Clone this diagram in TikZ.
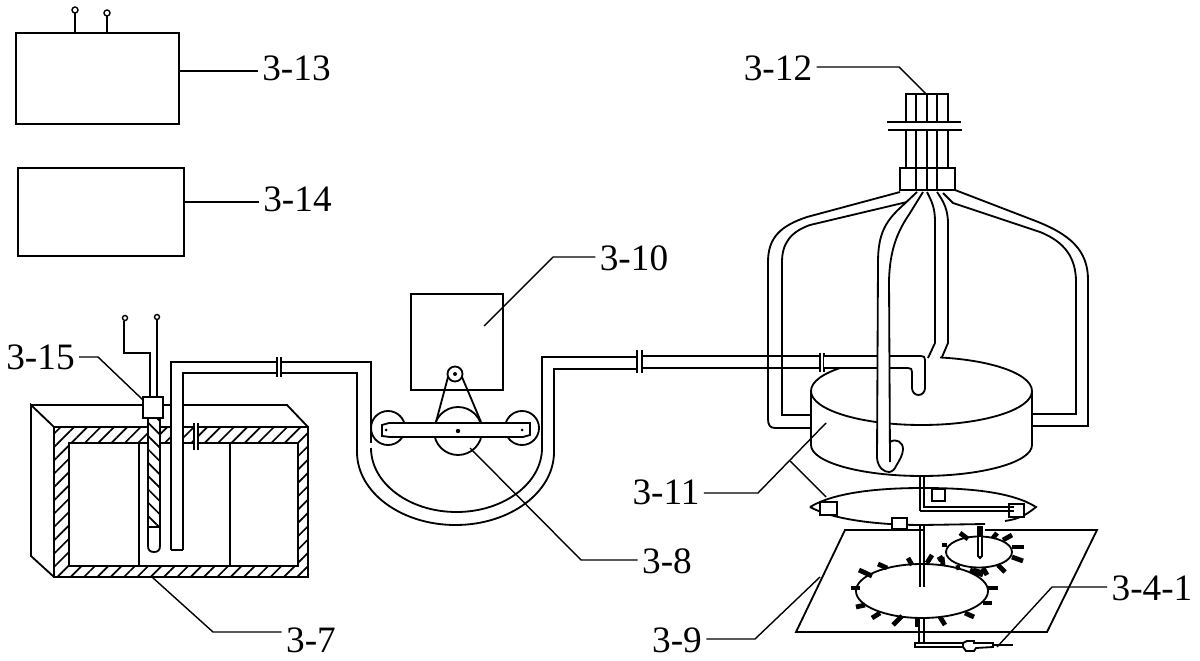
\documentclass[tikz,border=0pt]{standalone}
\usepackage{fontspec}
\setmainfont{Liberation Serif}
\usetikzlibrary{patterns.meta}

\tikzset{
  wall/.style={line width=1.3pt},
  leader/.style={line width=1pt},
  tooth/.style={line width=3.4pt},
  lbl/.style={inner sep=3pt, font=\fontsize{26.5}{26.5}\selectfont},
  hatchup/.style={pattern={Lines[angle=45,distance=6.7pt,line width=1.2pt]}},
  hatchdown/.style={pattern={Lines[angle=-45,distance=6.7pt,line width=1.2pt]}}
}

\begin{document}
\begin{tikzpicture}[x=0.025cm, y=-0.025cm]
            \useasboundingbox (0,0) rectangle (1200,661);

            % labels
            \node[lbl] (l13) at (296.5,68) {3-13};
            \node[lbl] (l14) at (297.5,199) {3-14};
            \node[lbl] (l10) at (634,258) {3-10};
            \node[lbl] (l12) at (778,68) {3-12};
            \node[lbl] (l15) at (40.5,357) {3-15};
            \node[lbl] (l11) at (666,492) {3-11};
            \node[lbl] (l8) at (667,561) {3-8};
            \node[lbl] (l9) at (677,640) {3-9};
            \node[lbl] (l7) at (311,640) {3-7};
            \node[lbl] (l41) at (1152,588) {3-4-1};

            % control boxes
            \draw[wall] (16,33) rectangle (179,124);
            \draw[wall] (18,168) rectangle (184,256);
            \draw[leader] (75,33) -- (75,13);
            \draw[leader] (107,33) -- (107,16);
            \draw[leader] (75,10) circle (3);
            \draw[leader] (107,13) circle (3);

            % tank
            \path[hatchup, even odd rule] (54,427) rectangle (308,577) (69,443) rectangle (298,566);
            \draw[wall] (54,427) rectangle (308,577);
            \draw[wall] (69,443) rectangle (298,566);
            \draw[wall] (54,427) -- (31,405) -- (31,556) -- (54,577);
            \draw[wall] (31,405) -- (287,405) -- (308,427);
            \draw[wall] (139,443) -- (139,566);
            \draw[wall] (230,443) -- (230,566);

            % probe
            \fill[white] (148,418) -- (148,546) .. controls (148,550) and (150,552) .. (154,552) .. controls (158,552) and (160,550) .. (160,546) -- (160,418) -- cycle;
            \path[hatchdown] (148,418) rectangle (160,527);
            \draw[wall] (148,418) -- (148,546) .. controls (148,550) and (150,552) .. (154,552) .. controls (158,552) and (160,550) .. (160,546) -- (160,418);
            \draw[wall] (148,527) -- (160,527);

            % sensor and its wires
            \draw[wall, fill=white] (143,397) rectangle (163,418);
            \draw[wall] (150,397) -- (150,353) -- (124,353) -- (124,321);
            \draw[wall] (157,397) -- (157,320);
            \draw[leader] (125,318) circle (2.5);
            \draw[leader] (157,317) circle (2.5);

            % tube out of the tank
            \fill[white] (171,362) rectangle (183,550);
            \draw[wall] (171,550) -- (171,362) -- (277,362);
            \draw[wall] (183,550) -- (183,373) -- (277,373);
            \draw[wall] (171,550) -- (183,550);
            \draw[wall] (277,357) -- (277,377);
            \draw[wall] (281,357) -- (281,377);
            \draw[wall] (281,362) -- (371,362) -- (371,443);
            \draw[wall] (281,373) -- (357,373) -- (357,452);
            \fill[white] (195,423) rectangle (197,450);
            \draw[wall] (194,423) -- (194,450);
            \draw[wall] (198,423) -- (198,450);

            % u bend
            \draw[wall] (357,452) .. controls (357,492.3) and (401.1,525) .. (455.5,525) .. controls (509.9,525) and (554,492.3) .. (554,452);
            \draw[wall] (371,448) .. controls (371,483.3) and (409.3,512) .. (456.5,512) .. controls (503.7,512) and (542,483.3) .. (542,448);

            % pump box
            \draw[wall] (411,294) rectangle (503,390);
            \draw[wall] (388,428) circle (17);
            \draw[wall] (522,428) circle (17);
            \draw[wall] (458,431) circle (24);
            \draw[wall] (448,377) -- (436,422);
            \draw[wall] (462,377) -- (481,422);
            \draw[wall, fill=white] (455,374) circle (7.5);
            \fill (455,374) circle (2);
            \draw[wall, fill=white] (382,425) -- (389,423) -- (530,423) -- (530,435) -- (523,437) -- (390,437) -- (382,436) -- cycle;
            \fill (386,430) circle (1.5);
            \fill (458,431) circle (2.2);
            \fill (522,430) circle (1.5);

            % pipe to the disk
            \draw[wall] (554,452) -- (554,369) -- (637,369);
            \draw[wall] (542,448) -- (542,357) -- (637,357);
            \draw[wall] (637,350) -- (637,373);
            \draw[wall] (642,350) -- (642,373);
            \draw[wall] (642,356) -- (820,356);
            \draw[wall] (642,368) -- (820,368);
            \draw[wall] (820,353) -- (820,372);
            \draw[wall] (824,353) -- (824,372);

            % disk
            \draw[wall] (921.5,391) circle [x radius=110.5, y radius=34];
            \draw[wall] (811,391) -- (811,445) .. controls (811,462.1) and (860.5,476) .. (921.5,476) .. controls (982.5,476) and (1032,462.1) .. (1032,445) -- (1032,391);

            % side pipes
            \draw[wall] (900,192) -- (807,217) .. controls (780,226) and (768,238) .. (768,262) -- (768,419) .. controls (768,425) and (770,428) .. (775,428) -- (811,428);
            \draw[wall] (907,202) -- (810,225) .. controls (790,232) and (782,244) .. (782,262) -- (782,415) -- (811,415);
            \draw[wall] (955,190) -- (1033,220) .. controls (1070,234) and (1088,250) .. (1088,280) -- (1088,426) -- (1032,426);
            \draw[wall] (943,193) -- (953,203) -- (1040,232) .. controls (1065,242) and (1076,258) .. (1076,282) -- (1076,414) -- (1032,414);

            % middle pipes
            \fill[white] (824,356) rectangle (925,368);
            \fill[white] (925,350) rectangle (940,362);
            \fill[white] (912,368) rectangle (925,392);
            \draw[wall] (824,356) -- (921,356) .. controls (924,356) and (925,357) .. (925,360) -- (925,388) .. controls (925,392) and (922,395) .. (918.5,395) .. controls (915,395) and (912,392) .. (912,388) -- (912,372) .. controls (912,369) and (911,368) .. (908,368) -- (824,368);
            \draw[wall] (927,192) .. controls (932,202) and (935,208) .. (935,222) -- (935,343) -- (928,358);
            \draw[wall] (937,192) .. controls (944,202) and (948,210) .. (948,224) -- (948,343) -- (942,357);
            \fill[white] (877,250) rectangle (890,465);
            \draw[wall] (917,192) -- (900,208) .. controls (885,222) and (878,235) .. (878,262) -- (877,458) .. controls (878,468) and (884,472) .. (889,472) .. controls (892,472) and (895,469) .. (896,466);
            \draw[wall] (923,192) -- (910,213) .. controls (897,232) and (890,250) .. (889,280) -- (890,462);
            \draw[wall] (890,442) .. controls (896,438) and (903,442) .. (903,449) .. controls (903,455) and (899,461) .. (896,466);

            % manifold on top
            \draw[wall] (906,94) rectangle (948,122);
            \draw[wall] (916,94) -- (916,122);
            \draw[wall] (927,94) -- (927,122);
            \draw[wall] (937,94) -- (937,122);
            \draw[wall] (887,122) -- (961,122);
            \draw[wall] (888,130) -- (962,130);
            \draw[wall] (906,130) -- (906,168);
            \draw[wall] (916,130) -- (916,190);
            \draw[wall] (927,130) -- (927,190);
            \draw[wall] (937,130) -- (937,190);
            \draw[wall] (948,130) -- (948,168);
            \draw[wall] (900,168) rectangle (955,190);

            % lens under the disk
            \draw[wall] (810,507) .. controls (835,492) and (880,488) .. (923,488) .. controls (970,488) and (1012,492) .. (1036,507) .. controls (1025,516) and (1018,519) .. (1005,521);
            \draw[wall] (810,507) .. controls (830,518) and (870,525) .. (923,525) -- (985,524);
            \draw[wall, fill=white] (820,502) rectangle (837,515);
            \draw[wall, fill=white] (932,489) rectangle (945,501);
            \draw[wall, fill=white] (1009,504) rectangle (1024,517);
            \draw[wall, fill=white] (892,518) rectangle (907,529);

            % shaft
            \draw[wall] (920,476) -- (920,511);
            \draw[wall] (924,476) -- (924,507) -- (1014,507);
            \draw[wall] (920,511) -- (1014,511);
            \draw[wall] (920,526) -- (920,587);
            \draw[wall] (924,526) -- (924,587);
            \draw[wall] (919,617) -- (919,643);
            \draw[wall] (924,617) -- (924,643);

            % plate
            \draw[wall] (923,530) -- (845,530) -- (796,632) -- (1047,632) -- (1097,530) -- (985,530);

            % big ring
            \draw[wall] (922,591) circle [x radius=66, y radius=27];
            \draw[tooth] (859,570) -- (872,576);
            \draw[tooth] (878,564) -- (887,568);
            \draw[tooth] (908,558) -- (912,565);
            \draw[tooth] (927,563) -- (932,555);
            \draw[tooth] (942,557) -- (943,565);
            \draw[tooth] (970,570) -- (983,575);
            \draw[tooth] (987,588) -- (998,588);
            \draw[tooth] (983,603) -- (992,603);
            \draw[tooth] (965,613) -- (974,617);
            \draw[tooth] (940,617) -- (945,625);
            \draw[tooth] (917,618) -- (917,627);
            \draw[tooth] (902,616) -- (893,625);
            \draw[tooth] (880,613) -- (872,618);
            \draw[tooth] (865,605) -- (856,607);
            \draw[tooth] (860,588) -- (851,588);

            % small ring
            \draw[wall] (979,552) circle [x radius=33, y radius=15.5];
            \draw[tooth] (968,539) -- (960,533);
            \draw[tooth] (993,538) -- (997,533);
            \draw[tooth] (1003,540) -- (1012,535);
            \draw[tooth] (1012,547) -- (1024,547);
            \draw[tooth] (1012,557) -- (1023,561);
            \draw[tooth] (998,565) -- (1005,572);
            \draw[tooth] (983,568) -- (987,575);
            \draw[tooth] (973,570) -- (983,573);
            \draw[tooth] (960,567) -- (956,568);
            \draw[tooth] (943,557) -- (938,560);
            \draw[tooth] (947,545) -- (942,545);

            % rod in the small ring
            \draw[wall, fill=white] (978,527) -- (978,556) -- (980,558) -- (982,556) -- (982,527) -- cycle;
            \fill (977.5,527) rectangle (982.5,537);

            % welding gun
            \draw[wall] (915,643) rectangle (963,647);
            \draw[wall] (963,643) -- (967,641) -- (974,641) -- (974,643) -- (993,643) -- (993,647) -- (976,648) -- (974,651) -- (966,651) -- (963,647);
            \draw[wall] (993,645) -- (1013,645);

            % leaders
            \coordinate (p13) at (179,71);
            \draw[leader] (p13) -- (l13.west |- p13);
            \coordinate (p14) at (184,202);
            \draw[leader] (p14) -- (l14.west |- p14);
            \coordinate (p10) at (484,326);
            \coordinate (k10) at (553,257);
            \draw[leader] (p10) -- (k10) -- (l10.west |- k10);
            \coordinate (p12) at (926,94);
            \coordinate (k12) at (899,67);
            \draw[leader] (l12.east |- k12) -- (k12) -- (p12);
            \coordinate (p15) at (143,400);
            \coordinate (k15) at (98,357);
            \draw[leader] (l15.east |- k15) -- (k15) -- (p15);
            \coordinate (p11) at (826,423);
            \coordinate (k11) at (758,493);
            \coordinate (b11) at (790,461);
            \coordinate (c11) at (826,497);
            \draw[leader] (l11.east |- k11) -- (k11) -- (p11);
            \draw[leader] (b11) -- (c11);
            \coordinate (p8) at (470,448);
            \coordinate (k8) at (581,560);
            \draw[leader] (p8) -- (k8) -- (l8.west |- k8);
            \coordinate (p9) at (820,577);
            \coordinate (k9) at (755,639);
            \draw[leader] (l9.east |- k9) -- (k9) -- (p9);
            \coordinate (p7) at (152,577);
            \coordinate (k7) at (213,632);
            \draw[leader] (p7) -- (k7) -- (l7.west |- k7);
            \coordinate (p41) at (997,647);
            \coordinate (k41) at (1052,587);
            \draw[leader] (p41) -- (k41) -- (l41.west |- k41);
        \end{tikzpicture}
\end{document}
